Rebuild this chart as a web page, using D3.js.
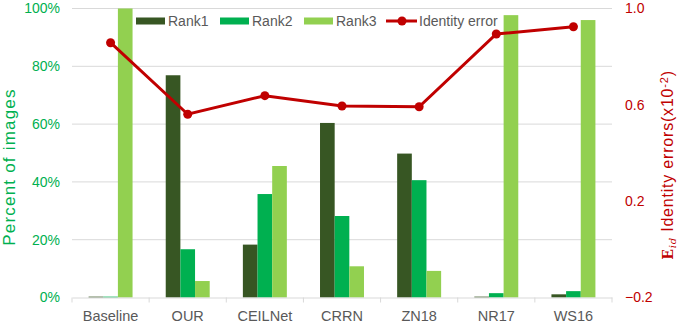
<!DOCTYPE html>
<html>
<head>
<meta charset="utf-8">
<script src="https://cdn.jsdelivr.net/npm/d3@7"></script>
<style>
  body { margin: 0; background: #fff; }
  text { font-family: "Liberation Sans", Arial, sans-serif; }
</style>
</head>
<body>
<div class="chart"></div>
<script>
const methods = ["Baseline", "OUR", "CEILNet", "CRRN", "ZN18", "NR17", "WS16"];
const rank1 = [0.3, 76.9, 18.3, 60.4, 49.8, 0.3, 1.1];
const rank2 = [0.3, 16.7, 35.8, 28.2, 40.6, 1.5, 2.2];
const rank3 = [100, 5.7, 45.5, 10.8, 9.2, 97.7, 96.0];
const identityError = [0.858, 0.561, 0.638, 0.595, 0.592, 0.894, 0.924];
const seriesNames = ["Rank1", "Rank2", "Rank3"];
const leftTicks = [0, 20, 40, 60, 80, 100];
const rightTicks = [-0.2, 0.2, 0.6, 1.0];

const width = 677, height = 325;
const margin = {top: 8.5, right: 65, bottom: 27.5, left: 72};
const colors = {Rank1: "#375623", Rank2: "#00b050", Rank3: "#92d050"};
const red = "#c00000";

const svg = d3.select(".chart").append("svg")
  .attr("width", width).attr("height", height);

const xScale = d3.scaleBand().domain(methods)
  .range([margin.left, width - margin.right]);
const xInner = d3.scaleBand().domain(seriesNames)
  .range([0, xScale.bandwidth() * 0.57]);
const yScale = d3.scaleLinear().domain([0, 100])
  .range([height - margin.bottom, margin.top]);
const yRight = d3.scaleLinear().domain([-0.2, 1.0])
  .range([height - margin.bottom, margin.top]);

// gridlines
svg.append("g").selectAll("line")
  .data(leftTicks.slice(1))
  .join("line")
  .attr("x1", margin.left).attr("x2", width - margin.right)
  .attr("y1", d => yScale(d)).attr("y2", d => yScale(d))
  .attr("stroke", "#d9d9d9").attr("stroke-width", 1);

// bars
const rows = methods.map((m, i) => ({method: m, Rank1: rank1[i], Rank2: rank2[i], Rank3: rank3[i]}));
const groupOffset = (xScale.bandwidth() - xInner.range()[1]) / 2;
svg.append("g").selectAll("g")
  .data(rows)
  .join("g")
  .attr("transform", d => `translate(${xScale(d.method) + groupOffset},0)`)
  .selectAll("rect")
  .data(d => seriesNames.map(k => ({key: k, value: d[k]})))
  .join("rect")
  .attr("x", d => xInner(d.key))
  .attr("width", xInner.bandwidth())
  .attr("y", d => yScale(d.value))
  .attr("height", d => yScale(0) - yScale(d.value))
  .attr("fill", d => colors[d.key]);

// x axis
const xAxis = svg.append("g")
  .attr("transform", `translate(0,${yScale(0)})`)
  .call(d3.axisBottom(xScale).tickSize(0).tickPadding(13));
xAxis.select(".domain").attr("stroke", "#d9d9d9");
xAxis.selectAll("text").attr("font-size", 14.5).attr("fill", "#595959")
  .attr("font-family", "Liberation Sans, Arial, sans-serif");
svg.append("g").selectAll("line")
  .data(d3.range(methods.length + 1))
  .join("line")
  .attr("x1", i => margin.left + i * xScale.step())
  .attr("x2", i => margin.left + i * xScale.step())
  .attr("y1", yScale(0)).attr("y2", yScale(0) + 5)
  .attr("stroke", "#d9d9d9");

// left axis
const yAxis = svg.append("g")
  .attr("transform", `translate(${margin.left},0)`)
  .call(d3.axisLeft(yScale).tickValues(leftTicks).tickSize(0).tickPadding(12).tickFormat(d => d + "%"));
yAxis.select(".domain").remove();
yAxis.selectAll("text").attr("font-size", 14).attr("fill", "#00b050")
  .attr("font-family", "Liberation Sans, Arial, sans-serif");

// right axis
const yAxisR = svg.append("g")
  .attr("transform", `translate(${width - margin.right},0)`)
  .call(d3.axisRight(yRight).tickValues(rightTicks).tickSize(0).tickPadding(13).tickFormat(d3.format(".1f")));
yAxisR.select(".domain").remove();
yAxisR.selectAll("text").attr("font-size", 14).attr("fill", red)
  .attr("font-family", "Liberation Sans, Arial, sans-serif");

// identity error line
const line = d3.line()
  .x((d, i) => xScale(methods[i]) + xScale.bandwidth() / 2)
  .y(d => yRight(d));
svg.append("path")
  .datum(identityError)
  .attr("d", line)
  .attr("fill", "none").attr("stroke", red).attr("stroke-width", 3);
svg.append("g").selectAll("circle")
  .data(identityError)
  .join("circle")
  .attr("cx", (d, i) => xScale(methods[i]) + xScale.bandwidth() / 2)
  .attr("cy", d => yRight(d))
  .attr("r", 4.5).attr("fill", red);

// axis titles
svg.append("text")
  .attr("transform", `translate(15,${(margin.top + yScale(0)) / 2 + 14}) rotate(-90)`)
  .attr("text-anchor", "middle")
  .attr("font-size", 17).attr("letter-spacing", 1.2).attr("fill", "#00b050")
  .text("Percent of images");

const rTitle = svg.append("text")
  .attr("transform", `translate(673,${(margin.top + yScale(0)) / 2 + 12}) rotate(-90)`)
  .attr("text-anchor", "middle")
  .attr("font-size", 16).attr("letter-spacing", 0.8).attr("fill", red);
rTitle.append("tspan").attr("font-family", "DejaVu Serif, serif").attr("font-weight", "bold").attr("font-size", 14).text("E");
rTitle.append("tspan").attr("font-family", "DejaVu Serif, serif").attr("font-style", "italic").attr("font-size", 10).attr("dy", 3).text("id");
rTitle.append("tspan").attr("dy", -3).text(" Identity errors(x10");
rTitle.append("tspan").attr("font-size", 11).attr("dy", -5).text("-2");
rTitle.append("tspan").attr("dy", 5).text(")");

// legend
const legend = svg.append("g").attr("transform", "translate(136,21)");
const legendX = [0, 84, 168];
seriesNames.forEach((k, i) => {
  legend.append("rect")
    .attr("x", legendX[i]).attr("y", -3.5)
    .attr("width", 29).attr("height", 7)
    .attr("fill", colors[k]);
  legend.append("text")
    .attr("x", legendX[i] + 32).attr("y", 0)
    .attr("dominant-baseline", "central")
    .attr("font-size", 14).attr("fill", "#595959")
    .text(k);
});
legend.append("line")
  .attr("x1", 250).attr("x2", 281).attr("y1", 0).attr("y2", 0)
  .attr("stroke", red).attr("stroke-width", 3);
legend.append("circle").attr("cx", 266).attr("cy", 0).attr("r", 4.5).attr("fill", red);
legend.append("text")
  .attr("x", 283).attr("y", 0)
  .attr("dominant-baseline", "central")
  .attr("font-size", 14).attr("fill", "#595959")
  .text("Identity error");
</script>
</body>
</html>
